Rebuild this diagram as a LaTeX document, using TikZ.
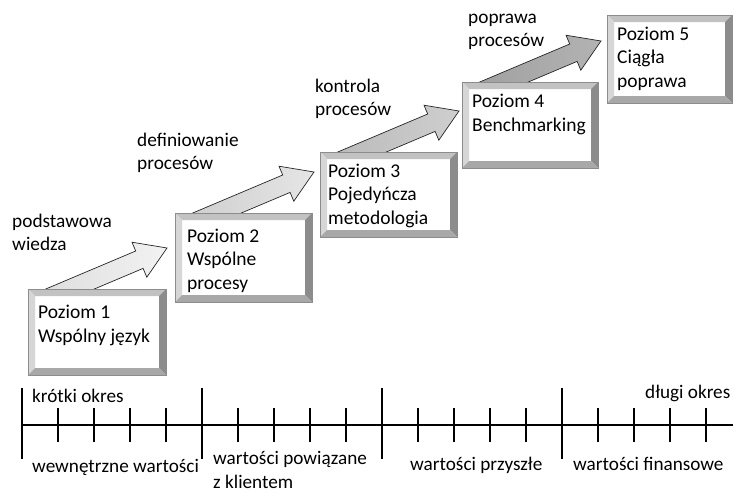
\documentclass[tikz,border=0pt]{standalone}
\usepackage{fontspec}
\setmainfont{Carlito}
\usetikzlibrary{calc}

\definecolor{bevtop}{HTML}{C2C2C2}
\definecolor{bevleft}{HTML}{D6D6D6}
\definecolor{bevright}{HTML}{8C8C8C}
\definecolor{bevbottom}{HTML}{A8A8A8}

\tikzset{
  level face/.style={fill=white, inner sep=0pt, outer sep=0pt, anchor=north west},
  level text/.style={anchor=base west, align=left, inner sep=0pt, font=\fontsize{19.5}{23.5}\selectfont},
  step label/.style={anchor=base west, align=left, inner sep=0pt, font=\fontsize{19.3}{23}\selectfont},
  time label/.style={anchor=base west, align=left, inner sep=0pt, font=\fontsize{19.2}{24}\selectfont},
  step arrow/.style={draw=black!85, line width=0.7pt, line join=miter},
  frame/.style={draw=black!45, line width=0.5pt},
  tick/.style={line width=1.1pt},
}

\begin{document}
\begin{tikzpicture}[x=1pt,y=-1pt]
  \useasboundingbox (0,0) rectangle (733,493);

  % White faces of the five levels
  \foreach \i/\x/\y/\w/\h in {1/28/289/138/86, 2/175/213/137/89, 3/320/152/137/85, 4/462/82/136/86, 5/607/15/125/88}
    \node[level face, minimum width=\w-14, minimum height=\h-14] (lvl\i) at (\x+7,\y+7) {};

  % Arrows between the levels
  \foreach \i/\ca/\cb in {1/black!13/black!5, 2/black!19/black!10, 3/black!27/black!19, 4/black!37/black!30}
    \shade[step arrow, left color=\ca, right color=\cb]
      ($(lvl\i.north west)+(6,-5)$) -- ($(lvl\i.north west)+(100.7,-45)$)
      -- ($(lvl\i.north west)+(97,-53.8)$) -- ($(lvl\i.north west)+(132,-48)$)
      -- ($(lvl\i.north west)+(111.8,-18.8)$) -- ($(lvl\i.north west)+(108.1,-27.6)$)
      -- ($(lvl\i.north west)+(54.6,-5)$) -- cycle;

  % Bevelled frames
  \foreach \i in {1,...,5} {
    \fill[bevtop] ($(lvl\i.north west)+(-7,-7)$) -- ($(lvl\i.north east)+(7,-7)$) -- (lvl\i.north east) -- (lvl\i.north west) -- cycle;
    \fill[bevleft] ($(lvl\i.north west)+(-7,-7)$) -- (lvl\i.north west) -- (lvl\i.south west) -- ($(lvl\i.south west)+(-7,7)$) -- cycle;
    \fill[bevright] ($(lvl\i.north east)+(7,-7)$) -- ($(lvl\i.south east)+(7,7)$) -- (lvl\i.south east) -- (lvl\i.north east) -- cycle;
    \fill[bevbottom] ($(lvl\i.south west)+(-7,7)$) -- (lvl\i.south west) -- (lvl\i.south east) -- ($(lvl\i.south east)+(7,7)$) -- cycle;
    \draw[frame] ($(lvl\i.north west)+(-7,-7)$) rectangle ($(lvl\i.south east)+(7,7)$);
  }

  % Level names (placed by the baseline of the last line)
  \node[level text] (t1) at (38,342) {Poziom 1\\Wspólny język};
  \node[level text] (t2) at (187,289) {Poziom 2\\Wspólne\\procesy};
  \node[level text] (t3) at (328,224) {Poziom 3\\Pojedyńcza\\metodologia};
  \node[level text] (t4) at (472,131) {Poziom 4\\Benchmarking};
  \node[level text] (t5) at (617,87) {Poziom 5\\Ciągła\\poprawa};

  % Labels over the arrows
  \node[step label] (s1) at (12,250) {podstawowa\\wiedza};
  \node[step label] (s2) at (137,169) {definiowanie\\procesów};
  \node[step label] (s3) at (315,115) {kontrola\\procesów};
  \node[step label] (s4) at (468,46) {poprawa\\procesów};

  % Time axis
  \draw[tick] (22,425) -- (733,425);
  \foreach \b in {22,202,382,562} {
    \draw[tick] (\b,388) -- (\b,459);
    \foreach \k in {1,...,4}
      \draw[tick] (\b+36*\k,408) -- (\b+36*\k,442);
  }

  % Axis labels
  \node[time label] (short) at (32,402) {krótki okres};
  \node[time label] (long) at (645,398) {długi okres};
  \node[time label] (v1) at (32,472) {wewnętrzne wartości};
  \node[time label] (v2) at (213,488) {wartości powiązane\\z klientem};
  \node[time label] (v3) at (410,470) {wartości przyszłe};
  \node[time label] (v4) at (573,470) {wartości finansowe};
\end{tikzpicture}
\end{document}
